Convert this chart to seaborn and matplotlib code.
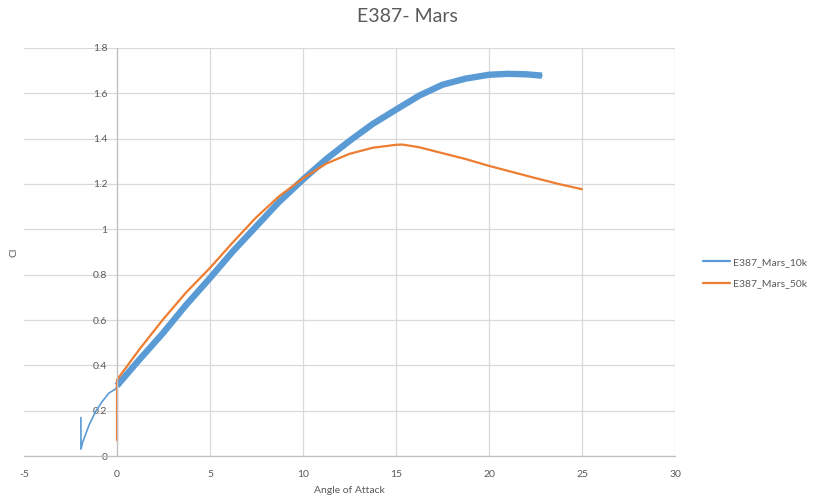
import pandas as pd
import seaborn as sns
from matplotlib import pyplot as plt
from matplotlib.ticker import FuncFormatter, MultipleLocator

BLUE = '#5B9BD5'
ORANGE = '#ED7D31'
TEXT = '#595959'
GRID = '#D9D9D9'
AXIS = '#BFBFBF'

# Lift curve, Re = 10k (thin low-alpha tail first, then the heavy main branch)
alpha_10k = [-1.94, -1.94, -1.85, -1.5, -1.15, -0.8, -0.43, -0.07,
             0, 1.2, 2.45, 3.7, 5, 6.2, 7.45, 8.7, 10, 11.25, 12.5, 13.75,
             15, 16.25, 17.5, 18.75, 20, 21, 22, 22.85]
cl_10k = [0.17, 0.03, 0.06, 0.137, 0.196, 0.24, 0.278, 0.296,
          0.31, 0.425, 0.54, 0.665, 0.785, 0.90, 1.01, 1.12, 1.22, 1.31,
          1.39, 1.465, 1.528, 1.59, 1.638, 1.665, 1.682, 1.686, 1.684, 1.678]

# Lift curve, Re = 50k
alpha_50k = [0, 0, 1.2, 2.45, 3.7, 5, 6.2, 7.45, 8.7, 10, 11.25, 12.5,
             13.75, 15, 15.35, 16.25, 17.5, 18.75, 20, 21.25, 22.5, 23.75, 25]
cl_50k = [0.07, 0.336, 0.47, 0.60, 0.72, 0.83, 0.94, 1.05, 1.145, 1.225,
          1.29, 1.333, 1.36, 1.373, 1.374, 1.362, 1.336, 1.31, 1.28, 1.253,
          1.226, 1.20, 1.177]

x_ticks = [-5, 0, 5, 10, 15, 20, 25, 30]

sns.set_theme(style='white')
plt.rcParams['font.family'] = ['Lato', 'DejaVu Sans']
plt.rcParams['axes.unicode_minus'] = False

fig = plt.figure(figsize=(8.14, 4.99), dpi=100)
ax = fig.add_axes([24 / 814, 43 / 499, 651 / 814, 408 / 499])

df_10k = pd.DataFrame({'alpha': alpha_10k, 'cl': cl_10k})
df_50k = pd.DataFrame({'alpha': alpha_50k, 'cl': cl_50k})

sns.lineplot(data=df_10k, x='alpha', y='cl', sort=False, estimator=None,
             color=BLUE, lw=1.2, ax=ax, label='E387_Mars_10k',
             solid_joinstyle='round')
# main branch is drawn much heavier in the original
sns.lineplot(data=df_10k[df_10k['alpha'] >= 0], x='alpha', y='cl', sort=False,
             estimator=None, color=BLUE, lw=4.6, ax=ax,
             solid_capstyle='butt', solid_joinstyle='round')
sns.lineplot(data=df_50k, x='alpha', y='cl', sort=False, estimator=None,
             color=ORANGE, lw=1.6, ax=ax, label='E387_Mars_50k',
             solid_joinstyle='round')

ax.set_xlim(-5, 30)
ax.set_ylim(0, 1.8)
ax.set_xticks(x_ticks)
ax.yaxis.set_major_locator(MultipleLocator(0.2))
ax.yaxis.set_major_formatter(FuncFormatter(lambda v, _: f'{v:g}'))

ax.grid(True, color=GRID, lw=0.9)
ax.xaxis.get_gridlines()[0].set_visible(False)
ax.set_axisbelow(True)

for side in ('top', 'right'):
    ax.spines[side].set_visible(False)
ax.spines['left'].set_position(('data', 0))
for side in ('left', 'bottom'):
    ax.spines[side].set_color(AXIS)
    ax.spines[side].set_linewidth(0.9)

ax.tick_params(axis='both', length=0, colors=TEXT, labelsize=7.5)
ax.tick_params(axis='x', pad=10)
ax.tick_params(axis='y', pad=7)

ax.set_xlabel('Angle of Attack', color=TEXT, fontsize=7.5, va='top')
ax.xaxis.set_label_coords(0.5, -0.073)
ax.set_ylabel('Cl', color=TEXT, fontsize=7.5)
ax.yaxis.set_label_coords(-0.009, 0.5)

fig.text(0.5, 1 - 17 / 499, 'E387- Mars', ha='center', va='center',
         color=TEXT, fontsize=14)

handles, labels = ax.get_legend_handles_labels()
if ax.get_legend() is not None:
    ax.get_legend().remove()
leg = fig.legend(handles, labels, loc='center left',
                 bbox_to_anchor=(703 / 814, 1 - 273 / 499),
                 frameon=False, fontsize=7.5, handlelength=2.6,
                 handletextpad=0.3, labelspacing=1.2,
                 borderpad=0, borderaxespad=0, labelcolor=TEXT)
for line in leg.get_lines():
    line.set_linewidth(1.6)

fig.savefig('out.png', dpi=100)
